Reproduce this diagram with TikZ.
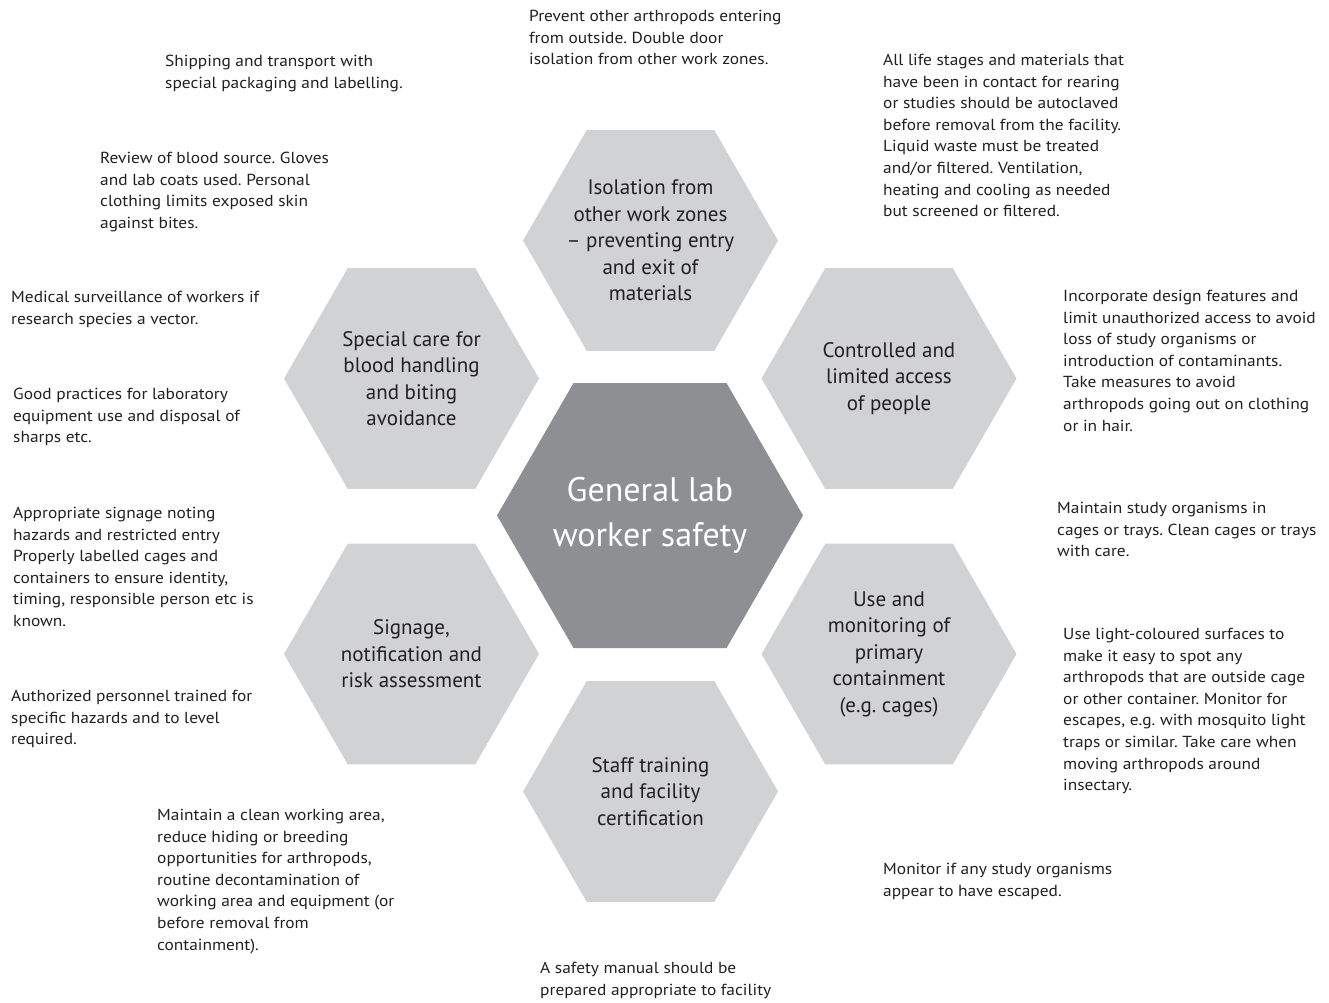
\documentclass[tikz,border=0pt]{standalone}
\usepackage{fontspec}
\setmainfont{PT Sans}
\newfontfamily\notefamily{PT Sans}[FakeStretch=1.085]
\usetikzlibrary{shapes.geometric}
\definecolor{hexlight}{RGB}{209,210,212}
\definecolor{hexdark}{RGB}{142,143,147}
\definecolor{inkgrey}{RGB}{35,31,32}
\newcommand{\notefont}{\notefamily\fontsize{16}{21.6}\selectfont}
\newcommand{\hexfont}{\fontsize{21}{26.5}\selectfont}
\newcommand{\corefont}{\fontsize{34}{45}\selectfont}
\frenchspacing

\begin{document}
\begin{tikzpicture}[x=1pt,y=-1pt,
    hexcell/.style={regular polygon, regular polygon sides=6, inner sep=0pt,
        minimum size=255pt, fill=hexlight},
    hexcore/.style={hexcell, minimum size=306pt, fill=hexdark},
    hextext/.style={align=center, inner sep=0pt, text=inkgrey, font=\hexfont},
    coretext/.style={align=center, inner sep=0pt, text=white, font=\corefont},
    note/.style={anchor=north west, inner sep=0pt, align=left, text=inkgrey, font=\notefont}]
    \useasboundingbox (0,0) rectangle (1329,1002);

    % hexagons
    \node[hexcore, label={[coretext]center:{General lab\\worker safety}}] (hexcore) at (650,515.5) {};
    \node[hexcell, label={[hextext]center:{Isolation from\\other work zones\\-- preventing entry\\and exit of\\materials}}] (hexisol) at (650.5,240.5) {};
    \node[hexcell, label={[hextext]center:{Controlled and\\limited access\\of people}}] (hexaccess) at (889,378.5) {};
    \node[hexcell, label={[hextext]center:{Use and\\monitoring of\\primary\\containment\\(e.g.\ cages)}}] (hexcontain) at (889,654) {};
    \node[hexcell, label={[hextext]center:{Staff training\\and facility\\certification}}] (hextrain) at (650.5,791.5) {};
    \node[hexcell, label={[hextext]center:{Signage,\\notification and\\risk assessment}}] (hexsign) at (411.5,654) {};
    \node[hexcell, label={[hextext]center:{Special care for\\blood handling\\and biting\\avoidance}}] (hexblood) at (411.5,378.5) {};

    % notes, left side
    \node[note] (noteship) at (165,55) {Shipping and transport with\\special packaging and labelling.};
    \node[note] (noteblood) at (100,152) {Review of blood source. Gloves\\and lab coats used. Personal\\clothing limits exposed skin\\against bites.};
    \node[note] (notemedic) at (11,291) {Medical surveillance of workers if\\research species a vector.};
    \node[note] (notepractice) at (13,388) {Good practices for laboratory\\equipment use and disposal of\\sharps etc.};
    \node[note] (notesignage) at (13,507) {Appropriate signage noting\\hazards and restricted entry\\Properly labelled cages and\\containers to ensure identity,\\timing, responsible person etc is\\known.};
    \node[note] (noteauth) at (11,690) {Authorized personnel trained for\\specific hazards and to level\\required.};
    \node[note] (noteclean) at (157,809) {Maintain a clean working area,\\reduce hiding or breeding\\opportunities for arthropods,\\routine decontamination of\\working area and equipment (or\\before removal from\\containment).};

    % notes, top and bottom
    \node[note] (noteprevent) at (529,10) {Prevent other arthropods entering\\from outside. Double door\\isolation from other work zones.};
    \node[note] (notemanual) at (540,962) {A safety manual should be\\prepared appropriate to facility};

    % notes, right side
    \node[note] (notewaste) at (883,54) {All life stages and materials that\\have been in contact for rearing\\or studies should be autoclaved\\before removal from the facility.\\Liquid waste must be treated\\and/or filtered. Ventilation,\\heating and cooling as needed\\but screened or filtered.};
    \node[note] (notedesign) at (1063,290) {Incorporate design features and\\limit unauthorized access to avoid\\loss of study organisms or\\introduction of contaminants.\\Take measures to avoid\\arthropods going out on clothing\\or in hair.};
    \node[note] (notecages) at (1057,502) {Maintain study organisms in\\cages or trays. Clean cages or trays\\with care.};
    \node[note] (notesurface) at (1063,628) {Use light-coloured surfaces to\\make it easy to spot any\\arthropods that are outside cage\\or other container. Monitor for\\escapes, e.g.\ with mosquito light\\traps or similar. Take care when\\moving arthropods around\\insectary.};
    \node[note] (noteescape) at (883,863) {Monitor if any study organisms\\appear to have escaped.};
\end{tikzpicture}
\end{document}
